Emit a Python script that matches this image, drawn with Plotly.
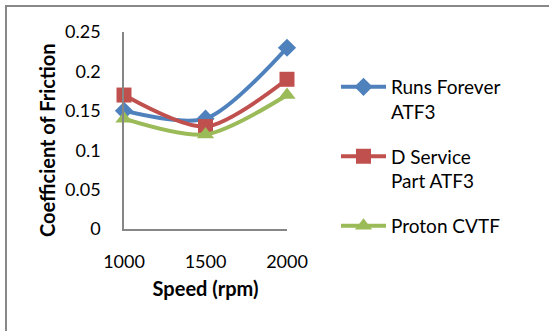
import plotly.graph_objects as go

speeds = [1000, 1500, 2000]
runs_forever = [0.15, 0.14, 0.23]
d_service = [0.17, 0.13, 0.19]
proton = [0.14, 0.12, 0.17]
names = ["Runs Forever<br>ATF3", "D Service<br>Part ATF3", "Proton CVTF"]
colors = ["#4F81BD", "#C0504D", "#9BBB59"]
symbols = ["diamond", "square", "triangle-up"]
sizes = [14, 15, 15]
series = [runs_forever, d_service, proton]
yticks = [0, 0.05, 0.1, 0.15, 0.2, 0.25]
yticktext = ["0", "0.05", "0.1", "0.15", "0.2", "0.25"]

FONT = "Lato"
fig = go.Figure()
for i, (nm, vals) in enumerate(zip(names, series)):
    fig.add_trace(go.Scatter(
        x=speeds, y=vals, name=nm, mode="lines+markers",
        line=dict(color=colors[i], width=4, shape="spline", smoothing=0.8),
        marker=dict(symbol=symbols[i], size=sizes[i], color=colors[i]),
        cliponaxis=False, legendgroup=f"g{i}",
    ))

L, R, T, B = 124, 287, 32, 229
W, H = 549, 331
pw, ph = R - L, B - T

def px(x):
    return (x - L) / pw

def py(y):
    return (B - y) / ph

fig.update_layout(
    width=W, height=H,
    margin=dict(l=L, r=W - R, t=T, b=H - B, autoexpand=False),
    paper_bgcolor="white", plot_bgcolor="white",
    font=dict(family=FONT, size=18, color="#000000"),
    showlegend=True,
    legend=dict(
        x=px(336), y=py(68), xanchor="left", yanchor="top",
        font=dict(family=FONT, size=19, color="#000000"),
        tracegroupgap=17, valign="top", itemwidth=45,
        bgcolor="rgba(0,0,0,0)",
    ),
    xaxis=dict(
        range=[1000, 2000], tickvals=speeds, ticktext=[str(s) for s in speeds],
        showgrid=False, zeroline=False, showline=True, linecolor="#868686", linewidth=1.5,
        ticks="", ticklabelstandoff=16,
        tickfont=dict(family=FONT, size=18),
        title=dict(text="<b>Speed (rpm)</b>", font=dict(family=FONT, size=20), standoff=11),
        automargin=False,
    ),
    yaxis=dict(
        range=[0, 0.25], tickvals=yticks, ticktext=yticktext,
        showgrid=False, zeroline=False, showline=True, linecolor="#868686", linewidth=1.5,
        ticks="", ticklabelstandoff=18,
        tickfont=dict(family=FONT, size=18),
        automargin=False,
    ),
    annotations=[dict(
        text="<b>Coefficient of Friction</b>", textangle=-90,
        xref="paper", yref="paper", x=px(47), y=py(140),
        xanchor="center", yanchor="middle", showarrow=False,
        font=dict(family=FONT, size=20, color="#000000"),
    )],
    shapes=[dict(
        type="rect", xref="paper", yref="paper",
        x0=px(6), x1=px(560), y0=py(345), y1=py(6),
        line=dict(color="#888888", width=2), fillcolor="rgba(0,0,0,0)", layer="below",
    )],
)

fig.write_html("out.html")
